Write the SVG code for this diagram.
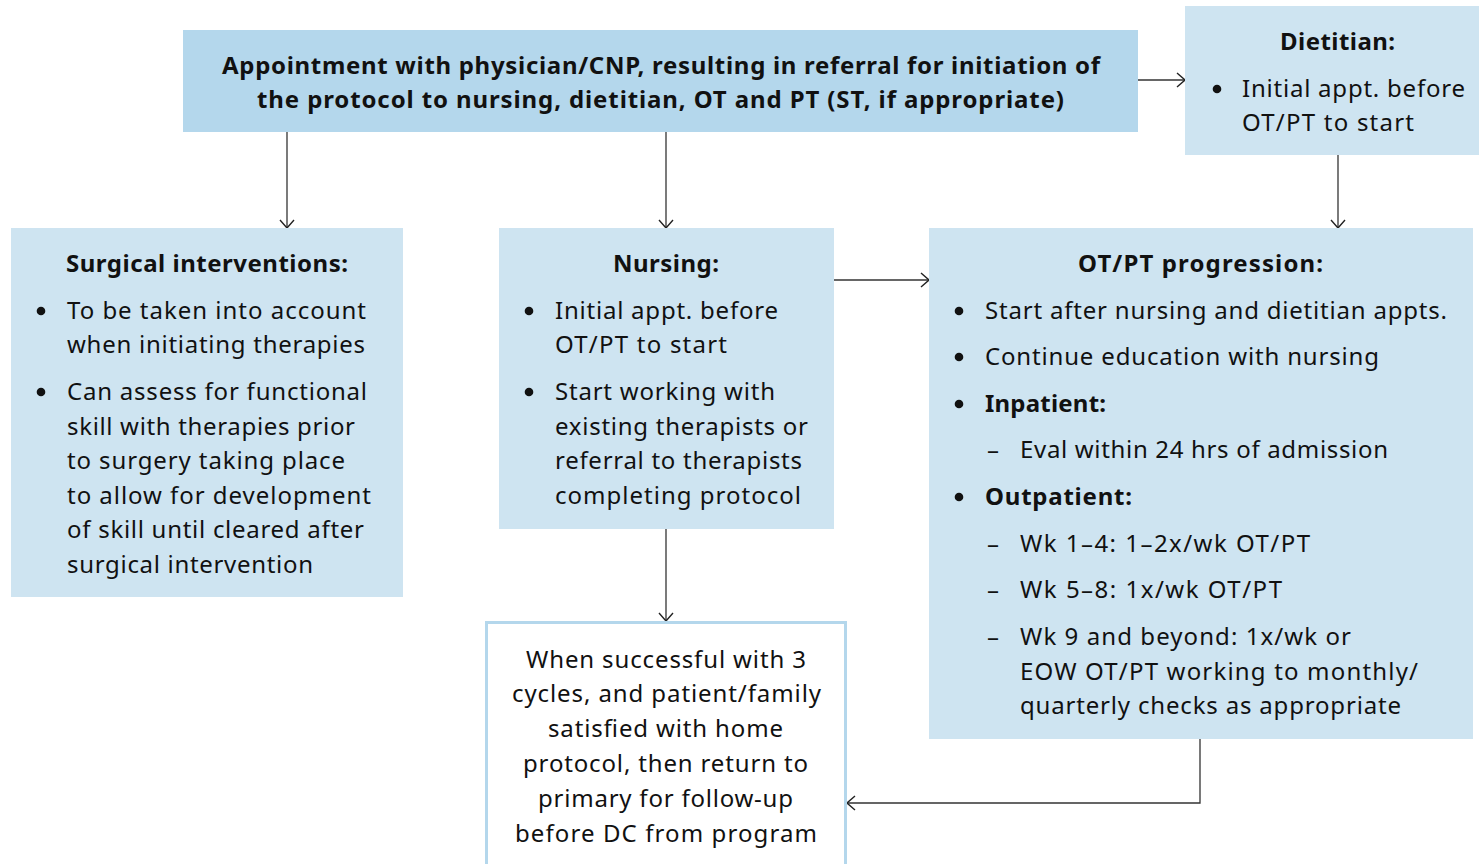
<svg xmlns="http://www.w3.org/2000/svg" width="1479" height="864" viewBox="0 0 1479 864">
<defs>
<style>
.box{fill:#cee4f1}
.top{fill:#b4d7ec}
.t{font-family:"Noto Sans","Open Sans","Liberation Sans",sans-serif;font-size:24px;fill:#111}
.b{font-weight:bold}
.c{text-anchor:middle}
.dot{fill:#111}
.conn{fill:none;stroke:#333;stroke-width:1.3}
</style>
<marker id="arr" viewBox="0 0 10 16" refX="10" refY="8" markerWidth="10" markerHeight="16" markerUnits="userSpaceOnUse" orient="auto">
<path d="M2,1 L10,8 L2,15" fill="none" stroke="#222" stroke-width="1.4"/>
</marker>
</defs>
<rect width="1479" height="864" fill="#fff"/>

<g id="connectors">
<line class="conn" x1="287" y1="132" x2="287" y2="228" marker-end="url(#arr)"/>
<line class="conn" x1="666" y1="132" x2="666" y2="228" marker-end="url(#arr)"/>
<line class="conn" x1="1138" y1="80" x2="1185" y2="80" marker-end="url(#arr)"/>
<line class="conn" x1="1338" y1="155" x2="1338" y2="228" marker-end="url(#arr)"/>
<line class="conn" x1="834" y1="280" x2="929" y2="280" marker-end="url(#arr)"/>
<line class="conn" x1="666" y1="529" x2="666" y2="621" marker-end="url(#arr)"/>
<polyline class="conn" points="1200,739 1200,803 847,803" marker-end="url(#arr)"/>
</g>

<g id="appointment">
<rect class="top" x="183" y="30" width="955" height="102"/>
<text class="t b c" x="661" y="74" textLength="878" lengthAdjust="spacing">Appointment with physician/CNP, resulting in referral for initiation of</text>
<text class="t b c" x="660.5" y="108" textLength="807" lengthAdjust="spacing">the protocol to nursing, dietitian, OT and PT (ST, if appropriate)</text>
</g>

<g id="dietitian">
<rect class="box" x="1185" y="6" width="294" height="149"/>
<text class="t b c" x="1337.5" y="50" textLength="115" lengthAdjust="spacing">Dietitian:</text>
<circle class="dot" cx="1217" cy="89" r="4.3"/>
<text class="t" x="1242" y="97" textLength="223" lengthAdjust="spacing">Initial appt. before</text>
<text class="t" x="1242" y="131" textLength="172" lengthAdjust="spacing">OT/PT to start</text>
</g>

<g id="surgical">
<rect class="box" x="11" y="228" width="392" height="369"/>
<text class="t b c" x="207" y="272" textLength="282" lengthAdjust="spacing">Surgical interventions:</text>
<circle class="dot" cx="41" cy="311" r="4.3"/>
<text class="t" x="67" y="319" textLength="299" lengthAdjust="spacing">To be taken into account</text>
<text class="t" x="67" y="353" textLength="298" lengthAdjust="spacing">when initiating therapies</text>
<circle class="dot" cx="41" cy="392" r="4.3"/>
<text class="t" x="67" y="400" textLength="300" lengthAdjust="spacing">Can assess for functional</text>
<text class="t" x="67" y="435" textLength="288" lengthAdjust="spacing">skill with therapies prior</text>
<text class="t" x="67" y="469" textLength="278" lengthAdjust="spacing">to surgery taking place</text>
<text class="t" x="67" y="504" textLength="304" lengthAdjust="spacing">to allow for development</text>
<text class="t" x="67" y="538" textLength="297" lengthAdjust="spacing">of skill until cleared after</text>
<text class="t" x="67" y="573" textLength="246" lengthAdjust="spacing">surgical intervention</text>
</g>

<g id="nursing">
<rect class="box" x="499" y="228" width="335" height="301"/>
<text class="t b c" x="666" y="272" textLength="106" lengthAdjust="spacing">Nursing:</text>
<circle class="dot" cx="529" cy="311" r="4.3"/>
<text class="t" x="555" y="319" textLength="223" lengthAdjust="spacing">Initial appt. before</text>
<text class="t" x="555" y="353" textLength="172" lengthAdjust="spacing">OT/PT to start</text>
<circle class="dot" cx="529" cy="392" r="4.3"/>
<text class="t" x="555" y="400" textLength="220" lengthAdjust="spacing">Start working with</text>
<text class="t" x="555" y="435" textLength="253" lengthAdjust="spacing">existing therapists or</text>
<text class="t" x="555" y="469" textLength="247" lengthAdjust="spacing">referral to therapists</text>
<text class="t" x="555" y="504" textLength="246" lengthAdjust="spacing">completing protocol</text>
</g>

<g id="otpt">
<rect class="box" x="929" y="228" width="544" height="511"/>
<text class="t b c" x="1200.5" y="272" textLength="245" lengthAdjust="spacing">OT/PT progression:</text>
<circle class="dot" cx="959" cy="311" r="4.3"/>
<text class="t" x="985" y="319" textLength="462" lengthAdjust="spacing">Start after nursing and dietitian appts.</text>
<circle class="dot" cx="959" cy="357" r="4.3"/>
<text class="t" x="985" y="365" textLength="394" lengthAdjust="spacing">Continue education with nursing</text>
<circle class="dot" cx="959" cy="404" r="4.3"/>
<text class="t b" x="985" y="412" textLength="121" lengthAdjust="spacing">Inpatient:</text>
<text class="t" x="987" y="458">–</text>
<text class="t" x="1020" y="458" textLength="368" lengthAdjust="spacing">Eval within 24 hrs of admission</text>
<circle class="dot" cx="959" cy="497" r="4.3"/>
<text class="t b" x="985" y="505" textLength="147" lengthAdjust="spacing">Outpatient:</text>
<text class="t" x="987" y="552">–</text>
<text class="t" x="1020" y="552" textLength="290" lengthAdjust="spacing">Wk 1–4: 1–2x/wk OT/PT</text>
<text class="t" x="987" y="598">–</text>
<text class="t" x="1020" y="598" textLength="262" lengthAdjust="spacing">Wk 5–8: 1x/wk OT/PT</text>
<text class="t" x="987" y="645">–</text>
<text class="t" x="1020" y="645" textLength="331" lengthAdjust="spacing">Wk 9 and beyond: 1x/wk or</text>
<text class="t" x="1020" y="680" textLength="398" lengthAdjust="spacing">EOW OT/PT working to monthly/</text>
<text class="t" x="1020" y="714" textLength="381" lengthAdjust="spacing">quarterly checks as appropriate</text>
</g>

<g id="discharge">
<rect x="486.5" y="622.5" width="359" height="250" fill="#fff" stroke="#b4d7ec" stroke-width="3"/>
<text class="t c" x="666" y="668" textLength="280" lengthAdjust="spacing">When successful with 3</text>
<text class="t c" x="666.5" y="702" textLength="309" lengthAdjust="spacing">cycles, and patient/family</text>
<text class="t c" x="665.5" y="737" textLength="235" lengthAdjust="spacing">satisfied with home</text>
<text class="t c" x="665.5" y="772" textLength="285" lengthAdjust="spacing">protocol, then return to</text>
<text class="t c" x="665.5" y="807" textLength="255" lengthAdjust="spacing">primary for follow-up</text>
<text class="t c" x="666" y="842" textLength="302" lengthAdjust="spacing">before DC from program</text>
</g>
</svg>
